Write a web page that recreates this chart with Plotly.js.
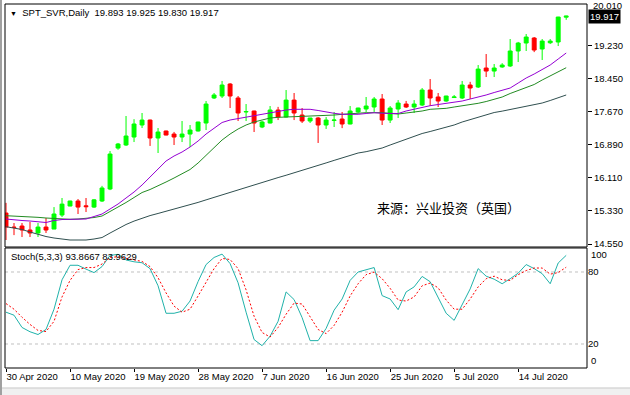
<!DOCTYPE html>
<html><head><meta charset="utf-8">
<script src="https://cdn.plot.ly/plotly-3.0.1.min.js"></script>
<style>html,body{margin:0;padding:0;background:#fff;}#chart{width:630px;height:395px;}</style>
</head><body><div id="chart"></div><script>
const dates = ['30 Apr 2020','1 May 2020','3 May 2020','4 May 2020','5 May 2020','6 May 2020','7 May 2020','8 May 2020','10 May 2020','11 May 2020','12 May 2020','13 May 2020','14 May 2020','15 May 2020','17 May 2020','18 May 2020','19 May 2020','20 May 2020','21 May 2020','22 May 2020','24 May 2020','25 May 2020','26 May 2020','27 May 2020','28 May 2020','29 May 2020','31 May 2020','1 Jun 2020','2 Jun 2020','3 Jun 2020','4 Jun 2020','5 Jun 2020','7 Jun 2020','8 Jun 2020','9 Jun 2020','10 Jun 2020','11 Jun 2020','12 Jun 2020','14 Jun 2020','15 Jun 2020','16 Jun 2020','17 Jun 2020','18 Jun 2020','19 Jun 2020','21 Jun 2020','22 Jun 2020','23 Jun 2020','24 Jun 2020','25 Jun 2020','26 Jun 2020','28 Jun 2020','29 Jun 2020','30 Jun 2020','1 Jul 2020','2 Jul 2020','3 Jul 2020','5 Jul 2020','6 Jul 2020','7 Jul 2020','8 Jul 2020','9 Jul 2020','10 Jul 2020','12 Jul 2020','13 Jul 2020','14 Jul 2020','15 Jul 2020','16 Jul 2020','17 Jul 2020','19 Jul 2020','20 Jul 2020','21 Jul 2020'];

const open  = [15.28,14.95,14.974,14.88,14.81,14.95,14.903,15.233,15.445,15.563,15.45,15.42,15.563,15.846,16.81,16.882,17.07,17.353,17.47,17.047,17.212,17.14,17.07,17.14,17.212,17.40,17.989,18.036,18.319,17.989,17.66,17.683,17.306,17.40,17.706,17.541,17.94,17.588,17.447,17.518,17.353,17.46,17.494,17.377,17.66,17.73,17.777,17.965,17.47,17.73,17.847,17.777,17.824,18.177,18.013,17.918,18.00,17.989,18.295,18.248,18.695,18.624,18.72,18.743,19.096,19.284,19.402,19.143,19.29,19.308,19.893];
const high  = [15.52,15.045,15.045,15.07,15.045,15.163,15.42,15.634,15.57,15.61,15.634,15.61,15.92,16.74,16.93,17.565,17.49,17.636,17.48,17.282,17.22,17.19,17.447,17.353,17.43,17.918,18.107,18.39,18.34,18.036,17.847,17.69,17.45,17.80,17.78,18.177,18.107,17.753,17.52,17.54,17.54,17.66,17.66,17.80,17.76,18.013,18.013,18.083,17.80,17.94,17.92,17.94,18.224,18.436,18.107,18.04,18.06,18.39,18.37,18.766,19.025,18.79,18.81,19.378,19.31,19.496,19.425,19.378,19.378,19.90,19.925];
const low   = [14.645,14.76,14.715,14.715,14.715,14.81,14.90,15.186,15.44,15.257,15.304,15.40,15.54,15.82,16.77,16.86,16.952,17.282,16.86,16.694,17.11,16.882,16.952,16.835,17.20,17.235,17.965,17.989,17.753,17.447,17.447,17.188,17.28,17.39,17.47,17.53,17.47,17.40,17.40,16.93,17.26,17.306,17.28,17.37,17.64,17.66,17.66,17.353,17.40,17.518,17.753,17.636,17.80,17.80,17.777,17.90,17.99,17.965,17.965,18.224,18.483,18.483,18.70,18.72,18.836,19.096,19.07,18.884,19.26,19.213,19.830];
const close = [14.95,14.94,14.88,14.81,14.95,14.88,15.257,15.49,15.563,15.42,15.43,15.59,15.87,16.67,16.906,17.094,17.377,17.47,17.047,17.188,17.117,17.07,17.14,17.235,17.424,17.847,18.06,18.295,18.036,17.636,17.67,17.40,17.424,17.706,17.541,17.94,17.636,17.447,17.518,17.353,17.47,17.47,17.377,17.683,17.753,17.80,17.965,17.47,17.753,17.87,17.777,17.847,18.177,17.989,17.918,18.036,18.013,18.295,18.224,18.67,18.624,18.695,18.766,19.096,19.284,19.425,19.119,19.33,19.33,19.896,19.917];

const maFast = [15.139,15.116,15.104,15.092,15.069,15.057,15.104,15.127,15.132,15.139,15.139,15.198,15.257,15.375,15.492,15.634,15.775,15.940,16.128,16.340,16.505,16.623,16.717,16.835,16.976,17.141,17.282,17.412,17.471,17.506,17.530,17.565,17.612,17.643,17.683,17.706,17.723,17.723,17.723,17.695,17.659,17.629,17.605,17.605,17.605,17.624,17.643,17.629,17.624,17.624,17.683,17.730,17.777,17.808,17.836,17.859,17.883,17.918,17.965,18.005,18.060,18.118,18.166,18.224,18.342,18.460,18.554,18.660,18.766,18.907,19.049];
const maMid  = [15.217,15.210,15.203,15.193,15.179,15.163,15.151,15.139,15.132,15.139,15.151,15.174,15.210,15.316,15.410,15.528,15.646,15.763,15.834,15.916,16.011,16.105,16.199,16.305,16.458,16.646,16.835,17.000,17.141,17.259,17.353,17.424,17.471,17.518,17.534,17.541,17.548,17.548,17.553,17.558,17.565,17.588,17.605,17.619,17.636,17.643,17.643,17.643,17.624,17.612,17.636,17.652,17.683,17.723,17.734,17.746,17.777,17.808,17.824,17.864,17.906,17.954,18.012,18.095,18.166,18.236,18.307,18.413,18.507,18.601,18.702];
const maSlow = [14.958,14.927,14.892,14.833,14.774,14.727,14.692,14.668,14.645,14.645,14.645,14.668,14.703,14.809,14.915,15.010,15.090,15.160,15.220,15.270,15.320,15.370,15.420,15.470,15.530,15.590,15.650,15.710,15.770,15.830,15.890,15.950,16.005,16.060,16.115,16.170,16.225,16.280,16.340,16.400,16.460,16.520,16.580,16.640,16.694,16.725,16.760,16.811,16.882,16.953,17.023,17.094,17.153,17.200,17.245,17.294,17.353,17.424,17.483,17.541,17.600,17.647,17.680,17.718,17.753,17.789,17.820,17.871,17.930,17.989,18.060];

const stochK = [46.5,44,33.8,30.2,27.9,32.1,49,73.5,85.6,85.6,82.4,79.5,84.5,93.8,94.7,90,88.5,87.7,82.8,68.5,45.6,45.6,47.3,55.8,72,86.2,92.1,94.9,87,71,46.5,23.7,18.6,26.5,38.9,63.4,57,42,22.8,22.8,33,48.2,57.5,73,80,81.6,83.7,60.3,57.5,48.6,63.4,67.6,76.3,71.9,58.9,45.6,39.7,53.3,65.9,82.8,76.5,74,70.2,74.4,79,86.2,82.8,78.6,70.2,87.5,93.8667];
const stochD = [53.7,49,42.3,36.3,31.3,30.4,38.9,59.2,73,82,83.7,83.7,86.6,92.1,92.7,91.3,90.4,88.8,84.5,75.2,62.6,51.6,46.5,49,60,71.4,82.8,91.3,90.4,82.8,65.1,43.1,29.6,25.8,33.8,44.8,54.1,53.3,42.3,32.1,28.7,35.5,46.5,60,70.2,77.8,79.9,74.4,66.4,56.6,55.8,59.2,68.5,70.8,66.8,56.6,49,49,57.5,67.6,74.4,76.5,73.5,73,77.8,81.2,83.3,83.3,78.2,79.5,83.9629];

const priceTicks = [14.55,15.33,16.11,16.89,17.67,18.45,19.23];
const priceTickText = ['14.550','15.330','16.110','16.890','17.670','18.450','19.230'];
const topPriceLabel = '20.010';
const dateTicks = ['30 Apr 2020','10 May 2020','19 May 2020','28 May 2020','7 Jun 2020','16 Jun 2020','25 Jun 2020','5 Jul 2020','14 Jul 2020'];
const stochLevels = [20, 80];
const lastPrice = 19.917;
const headerText = 'SPT_SVR,Daily  19.893 19.925 19.830 19.917';
const stochText = 'Stoch(5,3,3) 93.8667 83.9629';
const sourceText = '来源：兴业投资（英国）';

const FONT = 'Liberation Sans, Arial, sans-serif';
const traces = [
  {type:'candlestick', x:dates, open:open, high:high, low:low, close:close, xaxis:'x', yaxis:'y',
   increasing:{line:{color:'#00FF00', width:1}, fillcolor:'#00FF00'},
   decreasing:{line:{color:'#FF0000', width:1}, fillcolor:'#FF0000'},
   whiskerwidth:0, hoverinfo:'skip'},
  {type:'scatter', mode:'lines', x:dates, y:maSlow, line:{color:'#2F4F4F', width:1}, xaxis:'x', yaxis:'y', hoverinfo:'skip'},
  {type:'scatter', mode:'lines', x:dates, y:maMid, line:{color:'#228B22', width:1}, xaxis:'x', yaxis:'y', hoverinfo:'skip'},
  {type:'scatter', mode:'lines', x:dates, y:maFast, line:{color:'#9400D3', width:1}, xaxis:'x', yaxis:'y', hoverinfo:'skip'},
  {type:'scatter', mode:'lines', x:dates, y:stochK, line:{color:'#20B2AA', width:1}, xaxis:'x', yaxis:'y2', hoverinfo:'skip'},
  {type:'scatter', mode:'lines', x:dates, y:stochD, line:{color:'#FF0000', width:1, dash:'2px,2px'}, xaxis:'x', yaxis:'y2', hoverinfo:'skip'}
];

const mainDom = [0.3324, 1];
const stochDom = [0, 0.3297];
const shapes = [
  {type:'rect', xref:'paper', yref:'paper', x0:0, x1:1, y0:mainDom[0], y1:mainDom[1], line:{color:'#000', width:1}},
  {type:'rect', xref:'paper', yref:'paper', x0:0, x1:1, y0:stochDom[0], y1:stochDom[1], line:{color:'#000', width:1}},
  {type:'rect', xref:'paper', yref:'paper', x0:-0.0086, x1:1.0739, y0:-0.0742, y1:-0.0549, fillcolor:'#F0F0F0', line:{width:0}},
  {type:'line', xref:'paper', yref:'paper', x0:-0.0086, x1:1.0739, y0:-0.0549, y1:-0.0549, line:{color:'#C8C8C8', width:1}},
  {type:'line', xref:'paper', yref:'paper', x0:-0.0069, x1:-0.0069, y0:-0.0742, y1:1.011, line:{color:'#A0A0A0', width:2}}
];
stochLevels.forEach(v => shapes.push({type:'line', xref:'paper', yref:'y2', x0:0, x1:1, y0:v, y1:v, line:{color:'#C0C0C0', width:1, dash:'3px,3px'}, layer:'below'}));

const annotations = [
  {xref:'paper', yref:'paper', x:0.005, y:0.978, xanchor:'left', yanchor:'middle', showarrow:false,
   text:'<span style="font-size:7px">▼</span>  ' + headerText, font:{family:FONT, size:9.5, color:'#000'}},
  {xref:'paper', yref:'paper', x:0.0069, y:0.305, xanchor:'left', yanchor:'middle', showarrow:false,
   text:stochText, font:{family:FONT, size:9.5, color:'#000'}},
  {xref:'paper', yref:'paper', x:0.6357, y:0.4423, xanchor:'left', yanchor:'middle', showarrow:false,
   text:sourceText, font:{family:'Noto Sans CJK SC', size:13, color:'#000'}},
  {xref:'paper', yref:'paper', x:1, y:0.9958, xanchor:'left', yanchor:'middle', xshift:5, showarrow:false,
   text:topPriceLabel, borderpad:0, font:{family:FONT, size:9.5, color:'#000'}},
  {xref:'paper', yref:'y', x:1, y:lastPrice, xanchor:'left', yanchor:'middle', xshift:1, showarrow:false,
   text:lastPrice.toFixed(3), bgcolor:'#000', borderpad:1, font:{family:FONT, size:9.5, color:'#fff'}},
  {xref:'paper', yref:'y2', x:1, y:94.7, xanchor:'left', yanchor:'middle', xshift:2, showarrow:false,
   text:'100', font:{family:FONT, size:9.5, color:'#000'}},
  {xref:'paper', yref:'y2', x:1, y:5.9, xanchor:'left', yanchor:'middle', xshift:2, showarrow:false,
   text:'0', font:{family:FONT, size:9.5, color:'#000'}}
];

const layout = {
  width:630, height:395,
  margin:{l:5, r:43, t:4, b:27},
  paper_bgcolor:'#fff', plot_bgcolor:'#fff',
  showlegend:false, hovermode:false, dragmode:false,
  font:{family:FONT, size:9.5, color:'#000'},
  boxgap:0.3,
  xaxis:{type:'category', anchor:'y2', domain:[0,1], range:[-0.125, 72.6],
    tickmode:'array', tickvals:dateTicks, ticktext:dateTicks, ticks:'outside', ticklen:3, tickcolor:'#000',
    ticklabelposition:'outside right', showgrid:false, zeroline:false, showline:false,
    rangeslider:{visible:false}, fixedrange:true},
  yaxis:{domain:mainDom, side:'right', anchor:'x', range:[14.48, 20.203],
    tickmode:'array', tickvals:priceTicks, ticktext:priceTickText, ticks:'outside', ticklen:4, tickcolor:'#000',
    showgrid:false, zeroline:false, showline:false, fixedrange:true},
  yaxis2:{domain:stochDom, side:'right', anchor:'x', range:[0, 100],
    tickmode:'array', tickvals:stochLevels, ticktext:stochLevels.map(String), ticks:'',
    showgrid:false, zeroline:false, showline:false, fixedrange:true},
  shapes:shapes, annotations:annotations
};

Plotly.newPlot('chart', traces, layout, {staticPlot:true, displayModeBar:false});
</script></body></html>
